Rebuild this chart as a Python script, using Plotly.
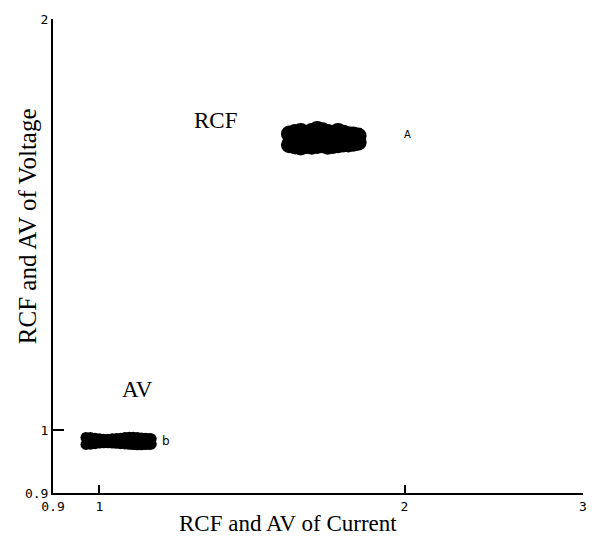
import plotly.graph_objects as go
import math

# RCF cluster (two rows of points forming the dense blob)
rcf_x = [1.54, 1.56, 1.58, 1.60, 1.62, 1.64, 1.66, 1.68, 1.70, 1.72, 1.74, 1.76, 1.78, 1.80,
         1.54, 1.56, 1.58, 1.60, 1.62, 1.64, 1.66, 1.68, 1.70, 1.72, 1.74, 1.76, 1.78, 1.80]
rcf_y = [1.648, 1.652, 1.655, 1.650, 1.655, 1.660, 1.657, 1.652, 1.650, 1.655, 1.650, 1.646, 1.645, 1.642,
         1.618, 1.615, 1.612, 1.616, 1.614, 1.616, 1.618, 1.614, 1.616, 1.618, 1.620, 1.620, 1.622, 1.625]

# AV cluster
av_x = [0.97, 0.98, 0.99, 1.00, 1.01, 1.02, 1.03, 1.04, 1.05, 1.06, 1.07, 1.08, 1.09, 1.10, 1.11, 1.12, 1.125,
        0.97, 0.98, 0.99, 1.00, 1.01, 1.02, 1.03, 1.04, 1.05, 1.06, 1.07, 1.08, 1.09, 1.10, 1.11, 1.12, 1.125]
av_y = [0.9884, 0.9880, 0.9870, 0.9860, 0.9855, 0.9855, 0.9860, 0.9865, 0.9870, 0.9880, 0.9885, 0.9885, 0.9880, 0.9875, 0.9870, 0.9865, 0.9860,
        0.9768, 0.9772, 0.9780, 0.9790, 0.9795, 0.9795, 0.9790, 0.9785, 0.9780, 0.9775, 0.9770, 0.9765, 0.9762, 0.9762, 0.9765, 0.9768, 0.9772]

x_ticks = [0.9, 1, 2, 3]
x_tick_text = ["0.9", "1", "2", "3"]
y_ticks = [0.9, 1, 2]
y_tick_text = ["0.9", "1", "2"]

point_labels = ["A", "b"]
point_label_x = [2.013, 1.163]
point_label_y = [1.647, 0.983]

fig = go.Figure()
fig.add_trace(go.Scatter(x=rcf_x, y=rcf_y, mode="markers",
                         marker=dict(color="black", size=17, line=dict(width=0)),
                         showlegend=False, hoverinfo="skip"))
fig.add_trace(go.Scatter(x=av_x, y=av_y, mode="markers",
                         marker=dict(color="black", size=11, line=dict(width=0)),
                         showlegend=False, hoverinfo="skip"))

serif = "Liberation Serif, Times New Roman, serif"
tickfont = dict(family="DejaVu Sans Mono, monospace", size=13, color="black")

annotations = []
for t, px, py in zip(point_labels, point_label_x, point_label_y):
    annotations.append(dict(text=t, x=math.log10(px), y=math.log10(py), xref="x", yref="y",
                            showarrow=False, xanchor="center", yanchor="middle",
                            font=dict(family="DejaVu Sans, sans-serif",
                                      size=10 if t == "A" else 12, color="black")))
annotations += [
    dict(text="RCF", x=0.307, y=0.786, xref="paper", yref="paper", showarrow=False,
         xanchor="center", yanchor="middle",
         font=dict(family=serif, size=23, color="black")),
    dict(text="AV", x=0.160, y=0.218, xref="paper", yref="paper", showarrow=False,
         xanchor="center", yanchor="middle",
         font=dict(family=serif, size=23, color="black")),
    dict(text="RCF and AV of Current", x=0.444, y=-0.065, xref="paper", yref="paper",
         showarrow=False, xanchor="center", yanchor="middle",
         font=dict(family=serif, size=23, color="black")),
    dict(text="RCF and AV of Voltage", x=-0.049, y=0.563, xref="paper", yref="paper",
         showarrow=False, textangle=-90, xanchor="center", yanchor="middle",
         font=dict(family=serif, size=25, color="black")),
]

fig.update_layout(
    width=599, height=544,
    margin=dict(l=53, r=15, t=16, b=51),
    paper_bgcolor="white", plot_bgcolor="white",
    xaxis=dict(type="log", range=[math.log10(0.9), math.log10(3)],
               tickvals=x_ticks, ticktext=x_tick_text, ticks="inside", ticklen=8,
               tickwidth=1.5, tickcolor="black", showgrid=False, zeroline=False,
               showline=True, linecolor="black", linewidth=2, tickfont=tickfont,
               mirror=False),
    yaxis=dict(type="log", range=[math.log10(0.9), math.log10(2)],
               tickvals=y_ticks, ticktext=y_tick_text, ticks="inside", ticklen=11,
               tickwidth=1.5, tickcolor="black", showgrid=False, zeroline=False,
               showline=True, linecolor="black", linewidth=2, tickfont=tickfont,
               mirror=False),
    annotations=annotations,
)

fig.write_html("out.html")
